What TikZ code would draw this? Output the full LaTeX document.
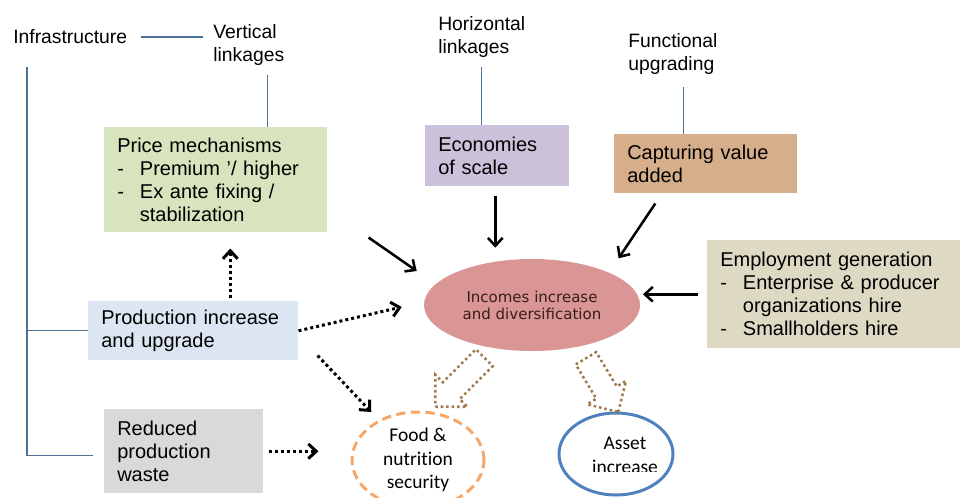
\documentclass[tikz,border=0pt]{standalone}
\usepackage{fontspec}
\setmainfont{Liberation Sans}
\newfontfamily\calfont[Ligatures=CommonOff]{Carlito}
\newfontfamily\dvfont{DejaVu Sans}
\usepackage{tikz}
\usetikzlibrary{positioning,arrows.meta,shapes.geometric,shapes.arrows}

\definecolor{pricegreen}{RGB}{215,228,189}
\definecolor{prodblue}{RGB}{220,230,242}
\definecolor{wastegrey}{RGB}{217,217,217}
\definecolor{econlilac}{RGB}{204,193,218}
\definecolor{captan}{RGB}{214,174,140}
\definecolor{empbeige}{RGB}{221,217,195}
\definecolor{incpink}{RGB}{217,150,148}
\definecolor{inctext}{RGB}{55,30,30}
\definecolor{foodorange}{RGB}{245,168,106}
\definecolor{assetblue}{RGB}{79,129,189}
\definecolor{linkblue}{RGB}{74,112,150}
\definecolor{hollowbrown}{RGB}{160,122,76}

\newcommand{\dashitem}{\makebox[17pt][l]{-}}
\newcommand{\hangitem}{\hspace*{17pt}}

\begin{document}
\begin{tikzpicture}[x=0.75pt, y=-0.75pt, >={Straight Barb[length=6pt,width=11pt]},
    box/.style = {anchor=north west, align=left, inner xsep=9.75pt, inner ysep=0pt, font=\fontsize{15}{17.25}\selectfont},
    tag/.style = {anchor=west, align=left, inner sep=0pt, font=\fontsize{14.5}{17.25}\selectfont},
    blob/.style = {ellipse, align=center, inner sep=0pt},
    linkline/.style = {draw=linkblue, line width=0.9pt},
    solidarr/.style = {->, line width=1.9pt},
    dotarr/.style = {->, line width=2.25pt, dash pattern=on 2.25pt off 2.25pt},
    hollowarr/.style = {single arrow, draw=hollowbrown, line width=1.9pt, dash pattern=on 1.9pt off 2.2pt, inner sep=8pt, single arrow head extend=8pt, single arrow head indent=0pt}]

    \useasboundingbox (0,0) rectangle (960,497);

    \node[tag] (infra) at (13,37) {Infrastructure};
    \node[tag] (vert) at (213,45) {Vertical\\linkages};
    \node[tag] (horiz) at (438,36.5) {Horizontal\\linkages};
    \node[tag] (func) at (628,54) {Functional\\upgrading};

    \node[box, fill=pricegreen, text width=147.75pt, minimum height=78.75pt] (price) at (104,127) {Price mechanisms\\ \dashitem Premium ’/ higher\\ \dashitem Ex ante fixing /\\ \hangitem stabilization};
    \node[box, fill=prodblue, text width=138pt, minimum height=44.25pt] (prod) at (88,301) {Production increase\\and upgrade};
    \node[box, fill=wastegrey, text width=99.75pt, minimum height=63pt] (waste) at (104,409) {Reduced\\production\\waste};
    \node[box, fill=econlilac, text width=88.5pt, minimum height=45.75pt] (econ) at (425,125) {Economies\\of scale};
    \node[box, fill=captan, text width=117.75pt, minimum height=44.25pt] (cap) at (614,134) {Capturing value\\added};
    \node[box, fill=empbeige, text width=170.25pt, minimum height=81pt] (emp) at (707,240) {Employment generation\\ \dashitem Enterprise \& producer\\ \hangitem organizations hire\\ \dashitem Smallholders hire};

    \node[blob, fill=incpink, text=inctext, minimum width=162pt, minimum height=69pt, font={\dvfont\fontsize{11.25}{12.75}\selectfont}] (inc) at (532,305) {Incomes increase\\and diversification};
    \node[blob, draw=foodorange, line width=2.25pt, dash pattern=on 7pt off 4pt, minimum width=99pt, minimum height=72pt, font={\calfont\fontsize{14.6}{17.6}\selectfont}] (food) at (418,460) {Food \&\\nutrition\\security};
    \node[blob, draw=assetblue, line width=2.25pt, minimum width=85.5pt, minimum height=61.5pt] (asset) at (616,454) {};
    \begin{scope}
        \clip (560,400) rectangle (690,471);
        \node[blob, font={\calfont\fontsize{14.6}{17.6}\selectfont}] (assettext) at ([shift={(9,1.5)}]asset.center) {Asset\\increase};
    \end{scope}

    \node[hollowarr, minimum height=52pt, rotate=225] (hleft) at (464,378) {};
    \node[hollowarr, minimum height=47pt, rotate=-59] (hright) at (599,380) {};

    \draw[linkline, shorten <=10.5pt, shorten >=7.5pt] (infra.east) -- (infra.east -| vert.west);
    \draw[linkline] ([shift={(19,9)}]vert.south) -- ([shift={(19,0)}]vert.south |- price.north);
    \draw[linkline] ([shift={(0,10)}]horiz.south) -- (horiz.south |- econ.north);
    \draw[linkline] ([shift={(11,12)}]func.south) -- ([shift={(11,0)}]func.south |- cap.north);
    \draw[linkline] ([shift={(14,30)}]infra.west) |- (prod.west);
    \draw[linkline] ([shift={(14,30)}]infra.west) |- ([shift={(-11,4)}]waste.west);

    \draw[solidarr] ([shift={(41,5)}]price.south east) -- ([shift={(-7,-34)}]inc.west);
    \draw[solidarr] ([shift={(-2,9)}]econ.south) -- ([shift={(-2,-11)}]econ.south |- inc.north);
    \draw[solidarr] ([shift={(-50.5,10)}]cap.south) -- ([shift={(10,-14)}]inc.north east);
    \draw[solidarr, shorten <=7pt, shorten >=2pt] (emp.west) -- (emp.west -| inc.east);

    \draw[dotarr] ([shift={(37,-3)}]prod.north) -- ([shift={(37,16)}]prod.north |- price.south);
    \draw[dotarr] (prod.east) -- ([shift={(-22,2)}]inc.west);
    \draw[dotarr] ([shift={(19,-5)}]prod.south east) -- ([shift={(1,-13)}]food.north west);
    \draw[dotarr, shorten <=3.75pt, shorten >=24pt] (waste.east) -- (waste.east -| food.west);

\end{tikzpicture}
\end{document}
